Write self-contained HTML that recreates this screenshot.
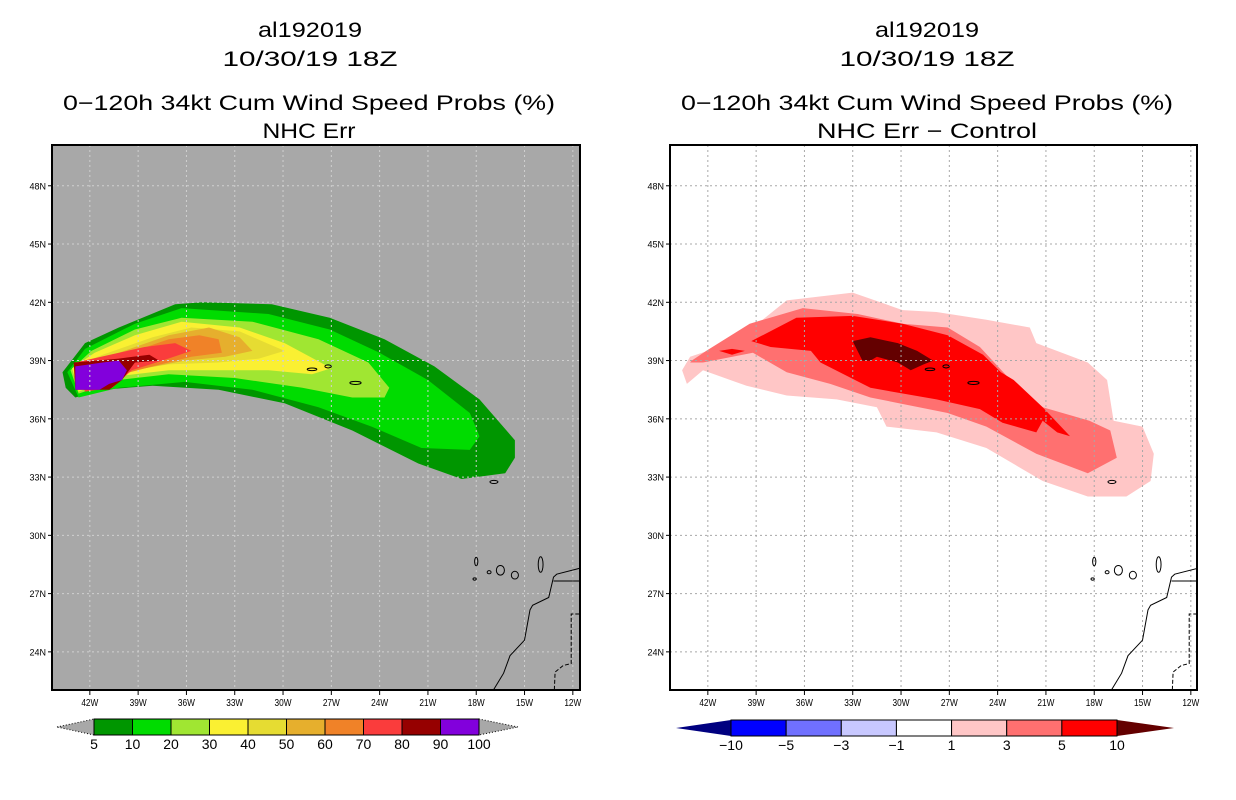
<!DOCTYPE html>
<html><head><meta charset="utf-8"><style>
html,body{margin:0;padding:0;background:#fff;}
svg{display:block;font-family:"Liberation Sans",sans-serif;}
</style></head><body>
<svg id="fig" width="1236" height="800" viewBox="0 0 1236 800">
<g id="titles" font-size="21" text-anchor="middle" fill="#000" lengthAdjust="spacingAndGlyphs">
<text x="310" y="37" textLength="104" lengthAdjust="spacingAndGlyphs">al192019</text>
<text x="310" y="66" textLength="175" lengthAdjust="spacingAndGlyphs">10/30/19 18Z</text>
<text x="309" y="110" textLength="492" lengthAdjust="spacingAndGlyphs">0−120h 34kt Cum Wind Speed Probs (%)</text>
<text x="309" y="138" textLength="93" lengthAdjust="spacingAndGlyphs">NHC Err</text>
<text x="927" y="37" textLength="104" lengthAdjust="spacingAndGlyphs">al192019</text>
<text x="927" y="66" textLength="175" lengthAdjust="spacingAndGlyphs">10/30/19 18Z</text>
<text x="927" y="110" textLength="492" lengthAdjust="spacingAndGlyphs">0−120h 34kt Cum Wind Speed Probs (%)</text>
<text x="927" y="138" textLength="220" lengthAdjust="spacingAndGlyphs">NHC Err − Control</text>
</g>
<g id="left"></g>
<g id="right"></g>
<g id="cbars"></g>
</svg>
<script>
// ---- data ----
const lonTicks = [-42,-39,-36,-33,-30,-27,-24,-21,-18,-15,-12];
const latTicks = [48,45,42,39,36,33,30,27,24];
const leftLevels = [5,10,20,30,40,50,60,70,80,90,100];
const leftColors = ['#009600','#00dc00','#a0e632','#faf032','#e6dc32','#e6af2d','#f08228','#fa3c3c','#960000','#8200dc'];
const rightLevels = [-10,-5,-3,-1,1,3,5,10];
const rightColors = ['#0000ff','#7070ff','#c8c8ff','#ffffff','#ffc6c6','#ff7070','#ff0000'];
const p5 = [[-43.7,38.4],[-42.3,39.9],[-40.2,40.7],[-36.7,41.9],[-35.0,42.0],[-30.7,41.9],[-27.1,41.2],[-23.7,40.1],[-20.6,38.7],[-17.8,37.0],[-15.6,34.9],[-15.6,34.0],[-16.2,33.2],[-18.9,32.9],[-21.6,33.7],[-25.7,35.4],[-29.9,36.8],[-34.0,37.5],[-38.1,37.7],[-41.2,37.5],[-42.9,37.1],[-43.5,37.6]];
const p10 = [[-43.4,38.4],[-42.3,39.6],[-39.2,40.9],[-36.3,41.7],[-30.9,41.4],[-27.1,40.6],[-24.0,39.4],[-21.0,38.0],[-18.4,36.3],[-17.8,35.1],[-18.4,34.4],[-21.4,34.5],[-24.5,35.6],[-27.8,36.6],[-31.9,37.5],[-36.1,37.9],[-40.2,37.6],[-42.7,37.1]];
const p20 = [[-43.2,38.5],[-41.9,39.5],[-39.2,40.6],[-36.3,41.2],[-31.9,41.0],[-27.8,40.1],[-24.7,38.9],[-23.4,37.6],[-23.7,37.1],[-25.7,37.1],[-28.8,37.6],[-33.0,38.1],[-37.1,38.3],[-40.2,38.0],[-42.7,37.3]];
const p30 = [[-43.1,38.6],[-41.7,39.4],[-39.2,40.3],[-36.3,41.0],[-32.7,40.7],[-29.9,39.9],[-27.0,38.6],[-28.2,38.3],[-30.9,38.5],[-34.0,38.5],[-37.1,38.5],[-40.2,38.2],[-42.7,37.4]];
const p40 = [[-43.0,38.7],[-41.2,39.3],[-38.1,40.2],[-35.7,40.7],[-32.7,40.5],[-29.9,39.5],[-31.5,39.1],[-34.0,38.9],[-37.1,38.8],[-40.2,38.4],[-42.5,37.6]];
const p50 = [[-43.0,38.8],[-40.2,39.4],[-37.1,40.3],[-34.6,40.7],[-32.7,40.2],[-31.9,39.5],[-33.6,39.2],[-36.1,39.0],[-39.2,38.5],[-42.3,37.7]];
const p60 = [[-43.0,38.8],[-39.2,39.5],[-37.1,40.1],[-35.2,40.3],[-34.0,40.1],[-33.8,39.4],[-35.7,39.2],[-38.1,38.7],[-42.3,37.8]];
const p70 = [[-42.9,38.9],[-38.6,39.7],[-36.7,39.9],[-35.7,39.5],[-37.5,39.0],[-39.4,38.5],[-40.6,37.6],[-42.3,37.4]];
const p80 = [[-43.0,38.9],[-40.2,39.1],[-38.3,39.3],[-37.7,39.0],[-39.2,38.9],[-40.0,38.0],[-40.8,37.5],[-42.9,37.5]];
const p90 = [[-42.9,38.7],[-41.2,38.9],[-40.2,39.0],[-39.7,38.5],[-40.0,38.0],[-40.8,37.8],[-41.4,37.5],[-42.9,37.5]];
const d1 = [[-43.6,38.5],[-43.1,39.2],[-40.2,40.0],[-38.6,41.1],[-37.1,42.1],[-33.0,42.5],[-29.9,41.6],[-27.8,41.5],[-24.7,41.1],[-22.0,40.7],[-21.6,39.9],[-18.4,38.9],[-17.2,38.0],[-16.8,35.9],[-15.0,35.6],[-14.3,34.2],[-14.5,32.8],[-16.0,32.0],[-18.4,32.0],[-21.2,32.8],[-24.7,34.5],[-27.8,35.3],[-30.9,35.6],[-31.5,36.6],[-34.0,37.0],[-37.1,37.2],[-39.6,37.7],[-42.3,38.5],[-43.3,37.8]];
const d3 = [[-43.0,39.0],[-42.1,39.5],[-39.4,40.9],[-36.1,41.7],[-32.7,41.4],[-29.9,40.9],[-27.1,40.7],[-25.1,39.7],[-23.2,38.0],[-21.2,36.6],[-18.3,35.9],[-17.0,35.4],[-16.6,34.0],[-18.4,33.2],[-21.6,34.2],[-24.7,35.6],[-27.1,36.3],[-31.9,37.1],[-34.4,37.8],[-37.1,38.4],[-39.2,39.4],[-42.3,38.9],[-43.1,38.9]];
const d5 = [[-39.3,40.0],[-36.5,41.2],[-33.0,41.3],[-29.9,40.9],[-27.1,40.3],[-24.9,39.3],[-23.8,38.4],[-23.0,38.0],[-21.2,36.6],[-19.5,35.1],[-20.3,35.3],[-21.2,35.9],[-21.6,35.3],[-23.7,35.8],[-25.1,36.5],[-27.8,37.0],[-31.9,37.6],[-35.0,38.9],[-35.6,39.5],[-38.1,39.7]];
const d5b = [[-41.3,39.5],[-40.5,39.6],[-39.7,39.5],[-40.5,39.3]];
const d10 = [[-33.0,40.0],[-31.9,40.2],[-30.2,39.9],[-29.0,39.5],[-28.0,39.0],[-28.6,38.8],[-29.4,38.5],[-30.2,38.9],[-31.5,39.2],[-31.9,39.0],[-32.4,39.0]];
const coast = [[-16.96,22.0],[-16.3,22.9],[-15.9,23.8],[-15.0,24.6],[-14.66,26.16],[-14.5,26.4],[-13.5,26.8],[-13.2,27.85],[-13.0,28.0],[-11.6,28.3]];
const border1 = [[-13.2,27.65],[-11.6,27.65]];
const border2 = [[-11.6,25.95],[-12.1,25.95],[-12.1,23.4],[-12.6,23.3],[-13.1,22.96],[-13.15,22.0]];
const islands = [[-28.2,38.55,0.3,0.07],[-27.2,38.7,0.2,0.08],[-25.5,37.85,0.35,0.08],[-16.9,32.75,0.25,0.08],[-18.0,28.65,0.1,0.22],[-17.2,28.1,0.12,0.08],[-16.5,28.2,0.25,0.25],[-15.6,27.95,0.22,0.2],[-14.0,28.5,0.15,0.4],[-18.1,27.75,0.1,0.06]];

// ---- projection ----
const LON0=-44.35, LAT0=50.1, PXD=16.1, PYD=19.42, TOP=145, BOT=690;
function mk(tag, attrs, parent){const e=document.createElementNS('http://www.w3.org/2000/svg',tag);for(const k in attrs)e.setAttribute(k,attrs[k]);parent.appendChild(e);return e;}
function panel(gid, left, right, bg, gridCol, polys){
  const g=document.getElementById(gid);
  const X=lon=>left+(lon-LON0)*PXD, Y=lat=>TOP+(LAT0-lat)*PYD;
  const cp=mk('clipPath',{id:gid+'-clip'},g);
  mk('rect',{x:left,y:TOP,width:right-left,height:BOT-TOP},cp);
  const bgr=mk('rect',{x:left,y:TOP,width:right-left,height:BOT-TOP,fill:bg},g);
  
  
  const inner=mk('g',{'clip-path':'url(#'+gid+'-clip)'},g);
  polys.forEach(([pts,col,name])=>{
    const p=mk('polygon',{points:pts.map(q=>X(q[0]).toFixed(1)+','+Y(q[1]).toFixed(1)).join(' '),fill:col},inner);
    
    
  });
  lonTicks.forEach(l=>{const ln=mk('line',{x1:X(l),x2:X(l),y1:TOP,y2:BOT,stroke:gridCol,'stroke-width':1,'stroke-dasharray':'2,3'},inner);
    
    });
  latTicks.forEach(l=>{const ln=mk('line',{x1:left,x2:right,y1:Y(l),y2:Y(l),stroke:gridCol,'stroke-width':1,'stroke-dasharray':'2,3'},inner);
    
    });
  [coast,border1,border2].forEach((c,i)=>{const pl=mk('polyline',{points:c.map(q=>X(q[0]).toFixed(1)+','+Y(q[1]).toFixed(1)).join(' '),fill:'none',stroke:'#000','stroke-width':1,'stroke-dasharray':i==2?'4,2':'none'},inner);
    
    });
  islands.forEach(s=>{const e=mk('ellipse',{cx:X(s[0]),cy:Y(s[1]),rx:s[2]*PXD,ry:s[3]*PYD,fill:'none',stroke:'#000','stroke-width':1},inner);
    
    });
  const fr=mk('rect',{x:left,y:TOP,width:right-left,height:BOT-TOP,fill:'none',stroke:'#000','stroke-width':2},g);
  
  
  lonTicks.forEach(l=>{mk('line',{x1:X(l),x2:X(l),y1:BOT,y2:BOT+5,stroke:'#000'},g);
    const t=mk('text',{x:X(l),y:BOT+16,'font-size':10,'text-anchor':'middle',textLength:17,lengthAdjust:'spacingAndGlyphs'},g);
    t.textContent=(-l)+'W';
    
    });
  latTicks.forEach(l=>{mk('line',{x1:left-4,x2:left,y1:Y(l),y2:Y(l),stroke:'#000'},g);
    const t=mk('text',{x:left-6,y:Y(l)+3.5,'font-size':9,'text-anchor':'end'},g);
    t.textContent=l+'N';
    
    });
}
panel('left',52,580,'#a8a8a8','#d0d0d0',[[p5,leftColors[0],'contour-5'],[p10,leftColors[1],'contour-10'],[p20,leftColors[2],'contour-20'],[p30,leftColors[3],'contour-30'],[p40,leftColors[4],'contour-40'],[p50,leftColors[5],'contour-50'],[p60,leftColors[6],'contour-60'],[p70,leftColors[7],'contour-70'],[p80,leftColors[8],'contour-80'],[p90,leftColors[9],'contour-90']]);
panel('right',670,1197,'#ffffff','#a8a8a8',[[d1,rightColors[4],'diff-1'],[d3,rightColors[5],'diff-3'],[d5,rightColors[6],'diff-5'],[d5b,rightColors[6],'diff-5-blob'],[d10,'#640000','diff-10']]);

// ---- colorbars ----
function cbar(x0,x1,aL,aR,y0,y1,levels,colors,lcol,rcol,dotted){
  const g=document.getElementById('cbars');
  const w=(x1-x0)/colors.length, ym=(y0+y1)/2;
  const a1=mk('polygon',{points:`${aL},${ym} ${x0},${y0} ${x0},${y1}`,fill:lcol,stroke:dotted?'#000':'none','stroke-dasharray':'1,2'},g);
  
  
  const a2=mk('polygon',{points:`${aR},${ym} ${x1},${y0} ${x1},${y1}`,fill:rcol,stroke:dotted?'#000':'none','stroke-dasharray':'1,2'},g);
  
  
  colors.forEach((c,i)=>{const r=mk('rect',{x:x0+i*w,y:y0,width:w,height:y1-y0,fill:c,stroke:'#000','stroke-width':1},g);
    
    });
  levels.forEach((v,i)=>{const t=mk('text',{x:x0+i*w,y:y1+14,'font-size':14,'text-anchor':'middle'},g);
    t.textContent=v<0?'−'+(-v):String(v);
    
    });
}
cbar(94,479,57,518,719,735,leftLevels,leftColors,'#a8a8a8','#a8a8a8',true);
cbar(731,1117,676,1174,720,736,rightLevels,rightColors,'#000080','#640000',false);
</script>
</body></html>
